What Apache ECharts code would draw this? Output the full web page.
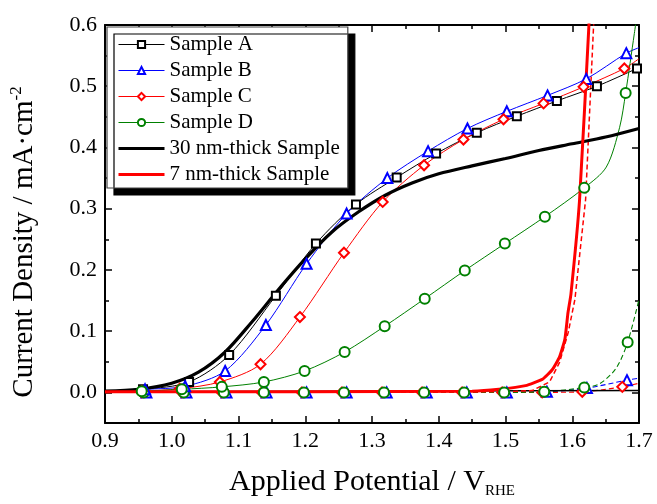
<!DOCTYPE html>
<html><head><meta charset="utf-8">
<script src="https://cdn.jsdelivr.net/npm/echarts@6/dist/echarts.min.js"></script>
<style>html,body{margin:0;padding:0;background:#fff}#c{width:657px;height:504px}</style>
</head><body><div id="c"></div>
<script>
const FONT = '"Liberation Serif", "Times New Roman", serif';
const xTickLabels = ['0.9','1.0','1.1','1.2','1.3','1.4','1.5','1.6','1.7'];
const yTickValues = [0, 0.1, 0.2, 0.3, 0.4, 0.5, 0.6];

// Light (illuminated) curves: marker points [V, J]
const sampleA_marks = [[0.957,0.005],[1.026,0.017],[1.086,0.061],[1.156,0.158],[1.216,0.243],[1.276,0.307],[1.337,0.351],[1.396,0.390],[1.457,0.424],[1.517,0.451],[1.577,0.476],[1.637,0.500],[1.697,0.529]];
const sampleA_line  = [[0.90,0.002],[1.70,0.531]];
const sampleB_marks = [[0.960,0.005],[1.020,0.010],[1.080,0.035],[1.141,0.110],[1.202,0.210],[1.262,0.292],[1.323,0.350],[1.384,0.394],[1.443,0.431],[1.502,0.459],[1.563,0.485],[1.621,0.512],[1.681,0.554]];
const sampleB_line  = [[0.90,0.002],[1.70,0.563]];
const sampleC_marks = [[0.955,0.002],[1.012,0.006],[1.072,0.017],[1.133,0.046],[1.192,0.123],[1.258,0.228],[1.316,0.311],[1.378,0.371],[1.437,0.413],[1.497,0.446],[1.557,0.472],[1.617,0.499],[1.678,0.529]];
const sampleC_line  = [[0.90,0.001],[1.70,0.545]];
const sampleD_marks = [[0.955,0.002],[1.015,0.005],[1.075,0.009],[1.138,0.017],[1.199,0.035],[1.259,0.066],[1.319,0.108],[1.379,0.153],[1.439,0.199],[1.499,0.243],[1.559,0.287],[1.618,0.334],[1.680,0.489]];
const sampleD_line  = [[0.90,0.001],[1.651,0.368],[1.671,0.433],[1.693,0.586],[1.70,0.64]];
const thick30_line  = [[0.90,0.002],[0.95,0.005],[1.00,0.015],[1.04,0.033],[1.08,0.066],[1.12,0.115],[1.16,0.168],[1.20,0.218],[1.24,0.262],[1.28,0.295],[1.32,0.322],[1.36,0.342],[1.40,0.357],[1.45,0.370],[1.50,0.382],[1.55,0.395],[1.60,0.406],[1.65,0.417],[1.70,0.431]];
const thin7_line    = [[0.90,0.001],[1.20,0.001],[1.45,0.002],[1.49,0.005],[1.53,0.011],[1.556,0.022],[1.570,0.037],[1.581,0.058],[1.589,0.087],[1.5936,0.130],[1.598,0.160],[1.611,0.315],[1.625,0.600],[1.630,0.700]];

// Dark curves
const darkB_marks = [[0.962,0.0],[1.022,0.0],[1.082,0.0],[1.142,0.0],[1.202,0.0],[1.262,0.0],[1.322,0.0],[1.382,0.0],[1.442,0.0],[1.502,0.0],[1.562,0.001],[1.622,0.007],[1.682,0.020]];
const darkB_line  = [[0.90,0.0],[1.70,0.023]];
const darkC_marks = [[0.955,0.0],[1.015,0.0],[1.075,0.0],[1.135,0.0],[1.195,0.0],[1.255,0.0],[1.315,0.0],[1.375,0.0],[1.435,0.0],[1.495,0.0],[1.555,0.0],[1.615,0.001],[1.675,0.009]];
const darkC_line  = [[0.90,0.0],[1.70,0.015]];
const darkD_marks = [[0.958,0.0],[1.018,0.0],[1.078,0.0],[1.138,0.0],[1.198,0.0],[1.258,0.0],[1.318,0.0],[1.378,0.0],[1.438,0.0],[1.498,0.0],[1.558,0.001],[1.618,0.008],[1.683,0.082]];
const darkD_line  = [[0.90,0.0],[1.641,0.014],[1.666,0.040],[1.70,0.152]];
const dark30_line = [[0.90,0.001],[1.70,0.003]];
const dark7_line  = [[0.90,0.0],[1.50,0.001],[1.54,0.003],[1.566,0.017],[1.581,0.049],[1.594,0.098],[1.604,0.152],[1.620,0.315],[1.632,0.600],[1.640,0.750]];

function build(marks, extra) {
  const d = marks.map(p => ({ value: p }))
    .concat(extra.map(p => ({ value: p, symbol: 'none' })));
  d.sort((a, b) => a.value[0] - b.value[0]);
  return d;
}
function ser(name, marks, extra, color, symbol, size, width, dashed, smooth) {
  return {
    name, type: 'line', data: build(marks, extra),
    symbol: symbol || 'none', symbolSize: size || 0, showSymbol: !!symbol,
    smooth: smooth === undefined ? 0.3 : smooth,
    lineStyle: { color, width, type: dashed ? [5, 3] : 'solid' },
    itemStyle: { color, borderColor: color, borderWidth: 1.1 },
    emphasis: { disabled: true }, animation: false
  };
}

const series = [
  ser('Sample B dark', darkB_marks, darkB_line, '#0000ff', 'emptyTriangle', 10, 1.1, true),
  ser('Sample C dark', darkC_marks, darkC_line, '#ff0000', 'emptyDiamond', 10, 1.1, true),
  ser('Sample D dark', darkD_marks, darkD_line, '#008000', 'emptyCircle', 10, 1.1, true),
  ser('30 nm dark', [], dark30_line, '#000000', null, 0, 1.5, false, false),
  ser('7 nm dark', [], dark7_line, '#ff0000', null, 0, 1.5, true, false),
  ser('Sample A', sampleA_marks, sampleA_line, '#000000', 'emptyRect', 8, 1, false),
  ser('Sample B', sampleB_marks, sampleB_line, '#0000ff', 'emptyTriangle', 10, 1, false),
  ser('Sample C', sampleC_marks, sampleC_line, '#ff0000', 'emptyDiamond', 10, 1, false),
  ser('Sample D', sampleD_marks, sampleD_line, '#008000', 'emptyCircle', 10, 1, false),
  ser('30 nm-thick Sample', [], thick30_line, '#000000', null, 0, 3.2, false, 0.3),
  ser('7 nm-thick Sample', [], thin7_line, '#ff0000', null, 0, 3, false, 0.15)
];

const axisLine = { show: true, onZero: false, lineStyle: { color: '#000', width: 2 } };
const tickStyle = { color: '#000', width: 1.5 };
const xBase = {
  type: 'value', min: 0.9, max: 1.7, interval: 0.1,
  axisLine, splitLine: { show: false },
  axisTick: { show: true, inside: true, length: 7, lineStyle: tickStyle },
  minorTick: { show: true, splitNumber: 2, length: 4, lineStyle: tickStyle },
  minorSplitLine: { show: false }
};
const yBase = { type: 'value', min: -0.05, max: 0.6, interval: 0.05, splitLine: { show: false } };
const hidden = { color: 'rgba(0,0,0,0)', borderColor: 'rgba(0,0,0,0)', borderWidth: 0, opacity: 0 };

const chart = echarts.init(document.getElementById('c'), null, { renderer: 'canvas' });
chart.setOption({
  backgroundColor: '#fff',
  animation: false,
  grid: { left: 105, right: 18, top: 25, bottom: 81, containLabel: false },
  xAxis: [
    Object.assign({}, xBase, {
      position: 'bottom',
      axisLabel: { show: true, margin: 7, fontFamily: FONT, fontSize: 22, color: '#000',
        formatter: v => xTickLabels[Math.round((v - 0.9) * 10)] || '' },
      name: 'Applied Potential / V{sub|RHE}', nameLocation: 'middle', nameGap: 43,
      nameTextStyle: { fontFamily: FONT, fontSize: 30, color: '#000',
        rich: { sub: { fontFamily: FONT, fontSize: 15, color: '#000', verticalAlign: 'bottom', padding: [18, 0, 0, 0] } } }
    }),
    Object.assign({}, xBase, { position: 'top', axisLabel: { show: false } })
  ],
  yAxis: [
    Object.assign({}, yBase, {
      position: 'left', axisLine,
      axisTick: { show: true, inside: true, length: 7, lineStyle: tickStyle, customValues: yTickValues },
      axisLabel: { show: true, margin: 8, fontFamily: FONT, fontSize: 22, color: '#000', customValues: yTickValues,
        formatter: v => (v > -0.001 && Math.abs(v * 10 - Math.round(v * 10)) < 1e-6) ? v.toFixed(1) : '' },
      name: 'Current Density / mA·cm{sup|-2}', nameLocation: 'middle', nameGap: 64, nameRotate: 90,
      nameTextStyle: { fontFamily: FONT, fontSize: 29, color: '#000', padding: [0, 36, 0, 0],
        rich: { sup: { fontFamily: FONT, fontSize: 17, color: '#000', verticalAlign: 'top', padding: [0, 0, 16, 0] } } }
    }),
    Object.assign({}, yBase, {
      position: 'left', axisLine: { show: false }, axisLabel: { show: false },
      axisTick: { show: true, inside: true, length: 4, lineStyle: tickStyle }
    }),
    Object.assign({}, yBase, {
      position: 'right', axisLine, axisLabel: { show: false },
      axisTick: { show: true, inside: true, length: 7, lineStyle: tickStyle, customValues: yTickValues }
    }),
    Object.assign({}, yBase, {
      position: 'right', axisLine: { show: false }, axisLabel: { show: false },
      axisTick: { show: true, inside: true, length: 4, lineStyle: tickStyle }
    })
  ],
  legend: {
    show: true, orient: 'vertical', left: 107, top: 27,
    data: [
      { name: 'Sample A', lineStyle: { width: 1, color: '#000' } },
      { name: 'Sample B', lineStyle: { width: 1, color: '#0000ff' } },
      { name: 'Sample C', lineStyle: { width: 1, color: '#ff0000' } },
      { name: 'Sample D', lineStyle: { width: 1, color: '#008000' } },
      { name: '30 nm-thick Sample', itemStyle: hidden, lineStyle: { width: 3, color: '#000' } },
      { name: '7 nm-thick Sample', itemStyle: hidden, lineStyle: { width: 3, color: '#ff0000' } }],
    itemWidth: 46, itemHeight: 9, itemGap: 5,
    padding: [7, 8, 3, 10],
    backgroundColor: '#fff', borderColor: '#444', borderWidth: 1.2,
    shadowColor: '#000', shadowBlur: 0, shadowOffsetX: 7, shadowOffsetY: 7,
    textStyle: { fontFamily: FONT, fontSize: 21, lineHeight: 21, color: '#000' },
    selectedMode: false
  },
  series
});
</script>
</body></html>
